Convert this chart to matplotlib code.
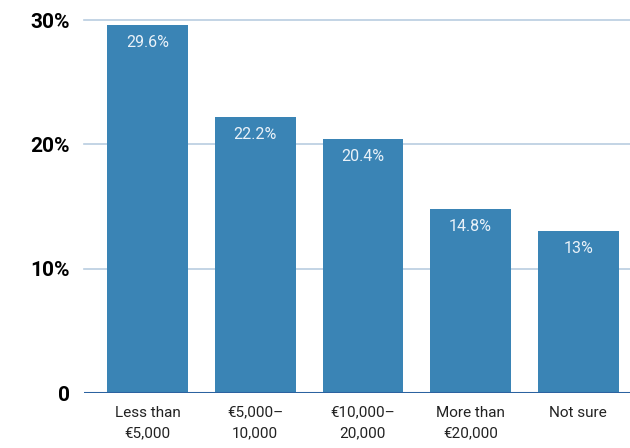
import matplotlib
matplotlib.use("Agg")
import matplotlib.pyplot as plt

categories = ["Less than\n€5,000", "€5,000–\n10,000", "€10,000–\n20,000", "More than\n€20,000", "Not sure"]
values = [29.6, 22.2, 20.4, 14.8, 13.0]
value_labels = ["29.6%", "22.2%", "20.4%", "14.8%", "13%"]
yticks = [0, 10, 20, 30]
ytick_labels = ["0", "10%", "20%", "30%"]

BAR = "#3a84b5"
GRID = "#b9cde0"
BASE = "#2b62a0"

plt.rcParams["font.family"] = ["Roboto", "DejaVu Sans"]

fig = plt.figure(figsize=(6.3, 4.48), dpi=100)
ax = fig.add_axes([84 / 630, 55 / 448, 1 - 84 / 630, 373 / 448])

x = range(len(categories))
bars = ax.bar(x, values, width=0.75, color=BAR, zorder=2)
for b, lab in zip(bars, value_labels):
    ax.annotate(lab, (b.get_x() + b.get_width() / 2, b.get_height()),
                xytext=(0, -12.5), textcoords="offset points",
                ha="center", va="center", color="#eaf2f9", fontsize=11.5)

ax.set_xlim(-0.59, 4.48)
ax.set_ylim(0, 30)
ax.set_yticks(yticks)
ax.set_yticklabels(ytick_labels, fontsize=15, fontweight="bold")
ax.set_xticks(list(x))
ax.set_xticklabels(categories, fontsize=11, color="#222222", linespacing=1.6)
ax.tick_params(axis="both", length=0)
ax.tick_params(axis="y", pad=10)
ax.tick_params(axis="x", pad=9)

for y in yticks[1:]:
    ax.axhline(y, color=GRID, lw=1.2, zorder=1, clip_on=False)
ax.axhline(0, color=BASE, lw=2.2, zorder=3)
for s in ax.spines.values():
    s.set_visible(False)

fig.savefig("out.png", dpi=100)
